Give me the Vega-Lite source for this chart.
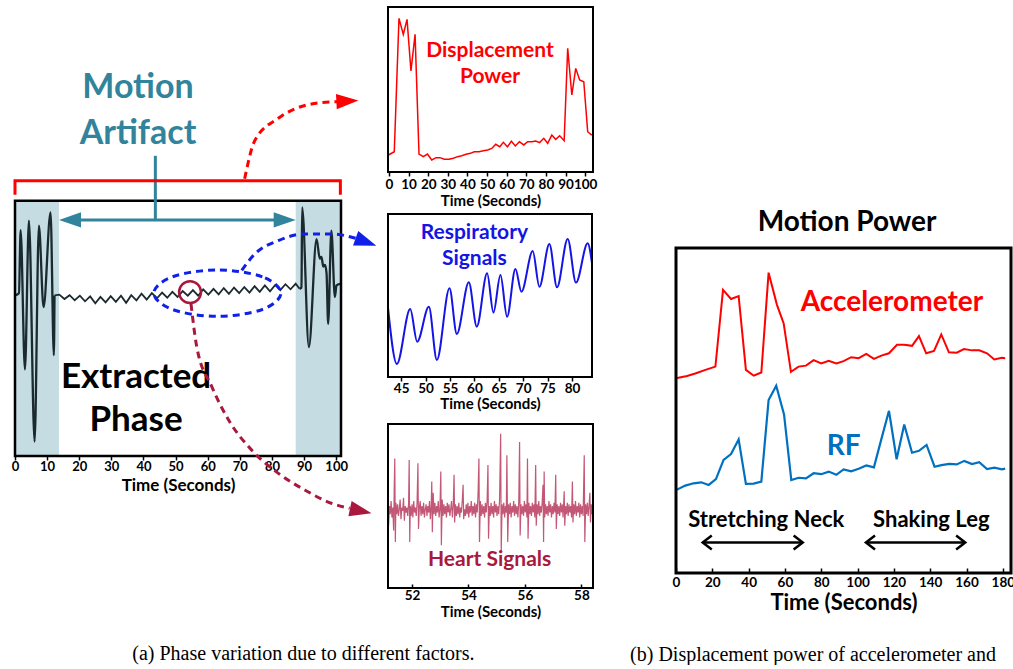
{
  "$schema": "https://vega.github.io/schema/vega-lite/v6.json",
  "background": "white",
  "autosize": {"type": "pad"},
  "padding": {"left": 9, "top": 6, "right": 1, "bottom": 0},
  "datasets": {
    "zig": [
      {"x":12.3,"y":62.9},{"x":13.8,"y":63.2},{"x":15.4,"y":61.5},{"x":17.0,"y":63.0},{"x":18.6,"y":61.0},{"x":20.2,"y":62.8},{"x":21.8,"y":60.6},{"x":23.4,"y":62.5},{"x":25.0,"y":59.8},{"x":26.6,"y":62.3},{"x":28.2,"y":60.2},{"x":29.8,"y":62.6},{"x":31.4,"y":60.4},{"x":33.0,"y":62.8},{"x":34.6,"y":60.0},{"x":36.2,"y":63.0},{"x":37.8,"y":61.0},{"x":39.4,"y":63.6},{"x":41.0,"y":61.3},{"x":42.6,"y":63.8},{"x":44.2,"y":61.8},{"x":45.8,"y":64.0},{"x":47.4,"y":62.0},{"x":49.0,"y":64.3},{"x":50.6,"y":62.3},{"x":52.2,"y":64.6},{"x":53.8,"y":62.8},{"x":55.4,"y":65.0},{"x":57.0,"y":62.8},{"x":58.6,"y":65.3},{"x":60.2,"y":63.2},{"x":61.8,"y":65.5},{"x":63.4,"y":63.3},{"x":65.0,"y":65.8},{"x":66.6,"y":63.5},{"x":68.2,"y":66.0},{"x":69.8,"y":63.8},{"x":71.4,"y":66.2},{"x":73.0,"y":64.0},{"x":74.6,"y":66.5},{"x":76.2,"y":64.3},{"x":77.8,"y":66.8},{"x":79.4,"y":64.5},{"x":81.0,"y":67.0},{"x":82.6,"y":65.0},{"x":84.2,"y":67.3},{"x":85.8,"y":65.3},{"x":87.4,"y":67.5},{"x":88.6,"y":65.5}
    ],
    "spk": [
      {"s":1,"x":0,"y":62.9},{"s":1,"x":1.23,"y":63.8},{"s":1,"x":1.75,"y":88.5},{"s":1,"x":3.1,"y":33.9},{"s":1,"x":4.34,"y":92.2},{"s":1,"x":6.1,"y":5.6},{"s":1,"x":7.44,"y":90.2},{"s":1,"x":8.9,"y":58.3},{"s":1,"x":11.07,"y":95.4},{"s":1,"x":12.1,"y":39.5},{"s":1,"x":12.3,"y":62.9},
      {"s":2,"x":88.6,"y":65.5},{"s":2,"x":89.2,"y":66.0},{"s":2,"x":89.4,"y":97.4},{"s":2,"x":91.5,"y":42.7},{"s":2,"x":93.9,"y":85.0},{"s":2,"x":94.9,"y":77.3},{"s":2,"x":95.4,"y":78.0},{"s":2,"x":96.0,"y":74.2},{"s":2,"x":96.5,"y":74.9},{"s":2,"x":97.0,"y":71.6},{"s":2,"x":97.5,"y":51.8},{"s":2,"x":98.5,"y":88.3},{"s":2,"x":99.6,"y":62.3},{"s":2,"x":100.1,"y":66.8},{"s":2,"x":101.2,"y":67.4}
    ],
    "acc": [
      {"x":0,"y":59.9},{"x":6.06,"y":60.6},{"x":10.6,"y":61.4},{"x":16.2,"y":62.5},{"x":21.7,"y":63.5},{"x":25.9,"y":87.1},{"x":30.3,"y":84.3},{"x":34.5,"y":85.2},{"x":38.5,"y":62.5},{"x":42.8,"y":60.7},{"x":47.0,"y":61.7},{"x":51.0,"y":92.4},{"x":55.6,"y":82.5},{"x":59.3,"y":76.8},{"x":63.3,"y":61.9},{"x":67.5,"y":63.5},{"x":71.6,"y":63.8},{"x":75.8,"y":65.5},{"x":80.0,"y":64.5},{"x":84.1,"y":65.3},{"x":88.3,"y":64.5},{"x":92.3,"y":65.2},{"x":96.5,"y":66.4},{"x":100.6,"y":66.1},{"x":104.8,"y":67.4},{"x":109.0,"y":65.9},{"x":113.1,"y":66.9},{"x":117.3,"y":67.6},{"x":121.7,"y":70.2},{"x":125.7,"y":70.2},{"x":130.0,"y":69.9},{"x":133.8,"y":72.9},{"x":137.8,"y":67.6},{"x":142.1,"y":68.3},{"x":146.1,"y":73.4},{"x":150.3,"y":67.9},{"x":154.6,"y":67.8},{"x":158.6,"y":68.9},{"x":163.0,"y":68.5},{"x":167.0,"y":68.5},{"x":171.3,"y":67.6},{"x":175.3,"y":65.7},{"x":179.5,"y":66.2},{"x":181.3,"y":66.1}
    ],
    "rf": [
      {"x":0,"y":25.5},{"x":5.1,"y":26.9},{"x":9.7,"y":27.6},{"x":13.9,"y":27.9},{"x":18.0,"y":27.1},{"x":22.0,"y":28.9},{"x":26.2,"y":34.8},{"x":30.3,"y":36.6},{"x":34.5,"y":41.1},{"x":38.5,"y":27.4},{"x":42.8,"y":27.5},{"x":47.0,"y":28.1},{"x":51.0,"y":53.2},{"x":55.2,"y":57.6},{"x":59.5,"y":48.8},{"x":63.5,"y":28.6},{"x":67.5,"y":29.3},{"x":71.6,"y":29.1},{"x":75.8,"y":30.7},{"x":80.0,"y":30.4},{"x":84.1,"y":31.2},{"x":88.3,"y":30.2},{"x":92.3,"y":31.9},{"x":96.5,"y":31.3},{"x":100.6,"y":32.1},{"x":104.8,"y":33.1},{"x":109.0,"y":32.5},{"x":113.1,"y":41.2},{"x":117.3,"y":49.9},{"x":121.5,"y":35.0},{"x":125.7,"y":45.7},{"x":130.0,"y":37.0},{"x":133.8,"y":37.6},{"x":138.0,"y":39.4},{"x":142.4,"y":32.7},{"x":146.2,"y":33.2},{"x":150.5,"y":33.6},{"x":154.6,"y":33.4},{"x":158.8,"y":34.5},{"x":163.0,"y":33.5},{"x":167.0,"y":34.1},{"x":171.3,"y":32.0},{"x":175.3,"y":32.4},{"x":179.5,"y":31.9},{"x":181.3,"y":32.1}
    ],
    "disp": [
      {"x":-0.3,"y":10.3},{"x":2.7,"y":12.3},{"x":5.1,"y":93.1},{"x":7.3,"y":83.4},{"x":9.2,"y":92.5},{"x":11.2,"y":61.2},{"x":13.3,"y":83.4},{"x":15.3,"y":10.9},{"x":17.5,"y":9.3},{"x":19.6,"y":10.9},{"x":21.8,"y":7.3},{"x":24.0,"y":8.7},{"x":26.0,"y":8.7},{"x":28.2,"y":7.7},{"x":30.6,"y":7.7},{"x":32.8,"y":8.3},{"x":35.0,"y":9.3},{"x":37.1,"y":9.9},{"x":39.3,"y":10.7},{"x":41.5,"y":11.3},{"x":43.5,"y":12.3},{"x":45.9,"y":12.3},{"x":48.1,"y":12.9},{"x":50.3,"y":13.3},{"x":52.4,"y":14.3},{"x":54.4,"y":16.8},{"x":56.5,"y":15.3},{"x":58.3,"y":18.0},{"x":60.4,"y":15.3},{"x":62.4,"y":18.6},{"x":64.4,"y":15.8},{"x":66.5,"y":18.4},{"x":68.7,"y":16.4},{"x":70.7,"y":18.4},{"x":72.8,"y":18.4},{"x":74.8,"y":18.8},{"x":76.8,"y":17.8},{"x":78.9,"y":20.4},{"x":80.9,"y":17.4},{"x":83.0,"y":22.4},{"x":85.0,"y":19.8},{"x":87.0,"y":22.0},{"x":89.3,"y":19.0},{"x":91.1,"y":75.0},{"x":93.2,"y":46.7},{"x":95.2,"y":62.8},{"x":97.2,"y":55.8},{"x":99.3,"y":54.7},{"x":101.3,"y":24.4},{"x":103.4,"y":22.4}
    ],
    "resp": [
      {"x":42.28,"y":43.1},{"x":44.12,"y":8.0},{"x":46.85,"y":41.7},{"x":48.28,"y":21.7},{"x":50.67,"y":43.1},{"x":52.31,"y":10.4},{"x":54.9,"y":54.4},{"x":56.4,"y":26.4},{"x":58.86,"y":58.1},{"x":60.49,"y":30.9},{"x":62.61,"y":63.6},{"x":63.9,"y":39.5},{"x":65.34,"y":62.6},{"x":66.7,"y":37.0},{"x":68.41,"y":66.3},{"x":69.64,"y":52.3},{"x":71.95,"y":77.3},{"x":73.32,"y":55.4},{"x":75.37,"y":81.6},{"x":76.93,"y":55.0},{"x":79.12,"y":84.7},{"x":80.82,"y":57.9},{"x":83.21,"y":82.0},{"x":84.1,"y":69.8}
    ],
    "heart": [
      {"x":51.15,"y":60},{"x":51.17,"y":38},{"x":51.20,"y":50},{"x":51.23,"y":45},{"x":51.26,"y":53},{"x":51.29,"y":43},{"x":51.32,"y":49},{"x":51.35,"y":35},{"x":51.37,"y":60},{"x":51.39,"y":79},{"x":51.41,"y":28},{"x":51.43,"y":52},{"x":51.46,"y":45},{"x":51.49,"y":51},{"x":51.52,"y":44},{"x":51.55,"y":48},{"x":51.58,"y":54},{"x":51.61,"y":42},{"x":51.64,"y":49},{"x":51.67,"y":47},{"x":51.70,"y":55},{"x":51.73,"y":41},{"x":51.76,"y":50},{"x":51.79,"y":46},{"x":51.82,"y":49},{"x":51.85,"y":44},{"x":51.88,"y":52},{"x":51.90,"y":78},{"x":51.92,"y":28},{"x":51.94,"y":50},{"x":51.97,"y":44},{"x":52.00,"y":51},{"x":52.03,"y":43},{"x":52.06,"y":53},{"x":52.09,"y":46},{"x":52.12,"y":49},{"x":52.15,"y":44},{"x":52.18,"y":52},{"x":52.21,"y":76},{"x":52.23,"y":36},{"x":52.26,"y":49},{"x":52.29,"y":53},{"x":52.32,"y":44},{"x":52.35,"y":50},{"x":52.38,"y":45},{"x":52.41,"y":52},{"x":52.44,"y":43},{"x":52.47,"y":48},{"x":52.50,"y":51},{"x":52.53,"y":44},{"x":52.56,"y":50},{"x":52.59,"y":46},{"x":52.62,"y":53},{"x":52.65,"y":42},{"x":52.68,"y":50},{"x":52.70,"y":65},{"x":52.72,"y":34},{"x":52.75,"y":58},{"x":52.78,"y":45},{"x":52.81,"y":52},{"x":52.84,"y":44},{"x":52.87,"y":50},{"x":52.90,"y":46},{"x":52.93,"y":53},{"x":52.96,"y":43},{"x":52.99,"y":48},{"x":53.02,"y":71},{"x":53.04,"y":26},{"x":53.07,"y":54},{"x":53.10,"y":44},{"x":53.13,"y":51},{"x":53.16,"y":45},{"x":53.19,"y":50},{"x":53.22,"y":43},{"x":53.25,"y":52},{"x":53.28,"y":46},{"x":53.31,"y":51},{"x":53.34,"y":44},{"x":53.37,"y":48},{"x":53.40,"y":53},{"x":53.43,"y":43},{"x":53.46,"y":50},{"x":53.49,"y":69},{"x":53.51,"y":40},{"x":53.54,"y":51},{"x":53.57,"y":44},{"x":53.60,"y":50},{"x":53.63,"y":45},{"x":53.66,"y":52},{"x":53.69,"y":43},{"x":53.72,"y":49},{"x":53.75,"y":46},{"x":53.78,"y":53},{"x":53.81,"y":63},{"x":53.83,"y":42},{"x":53.86,"y":48},{"x":53.89,"y":44},{"x":53.92,"y":51},{"x":53.95,"y":45},{"x":53.98,"y":52},{"x":54.01,"y":43},{"x":54.04,"y":50},{"x":54.07,"y":46},{"x":54.10,"y":53},{"x":54.13,"y":44},{"x":54.16,"y":50},{"x":54.19,"y":45},{"x":54.22,"y":52},{"x":54.25,"y":43},{"x":54.28,"y":51},{"x":54.31,"y":46},{"x":54.34,"y":58},{"x":54.37,"y":79},{"x":54.39,"y":28},{"x":54.42,"y":53},{"x":54.45,"y":44},{"x":54.48,"y":51},{"x":54.51,"y":45},{"x":54.54,"y":50},{"x":54.57,"y":43},{"x":54.60,"y":52},{"x":54.63,"y":46},{"x":54.66,"y":53},{"x":54.69,"y":75},{"x":54.71,"y":30},{"x":54.74,"y":50},{"x":54.77,"y":44},{"x":54.80,"y":52},{"x":54.83,"y":45},{"x":54.86,"y":50},{"x":54.89,"y":43},{"x":54.92,"y":53},{"x":54.95,"y":46},{"x":54.98,"y":51},{"x":55.01,"y":44},{"x":55.04,"y":50},{"x":55.07,"y":45},{"x":55.10,"y":53},{"x":55.14,"y":94},{"x":55.16,"y":22},{"x":55.19,"y":51},{"x":55.22,"y":45},{"x":55.25,"y":52},{"x":55.28,"y":43},{"x":55.31,"y":50},{"x":55.34,"y":46},{"x":55.36,"y":81},{"x":55.39,"y":28},{"x":55.42,"y":51},{"x":55.45,"y":45},{"x":55.48,"y":52},{"x":55.51,"y":43},{"x":55.54,"y":50},{"x":55.57,"y":46},{"x":55.60,"y":53},{"x":55.63,"y":44},{"x":55.66,"y":51},{"x":55.69,"y":45},{"x":55.72,"y":50},{"x":55.75,"y":43},{"x":55.78,"y":52},{"x":55.81,"y":89},{"x":55.83,"y":32},{"x":55.86,"y":51},{"x":55.89,"y":45},{"x":55.92,"y":50},{"x":55.95,"y":44},{"x":55.98,"y":53},{"x":56.01,"y":46},{"x":56.04,"y":51},{"x":56.07,"y":43},{"x":56.09,"y":79},{"x":56.11,"y":30},{"x":56.14,"y":52},{"x":56.17,"y":45},{"x":56.20,"y":50},{"x":56.23,"y":44},{"x":56.26,"y":52},{"x":56.29,"y":46},{"x":56.32,"y":51},{"x":56.35,"y":43},{"x":56.38,"y":75},{"x":56.40,"y":38},{"x":56.43,"y":51},{"x":56.46,"y":45},{"x":56.49,"y":53},{"x":56.52,"y":44},{"x":56.55,"y":50},{"x":56.58,"y":46},{"x":56.61,"y":52},{"x":56.64,"y":63},{"x":56.66,"y":28},{"x":56.68,"y":71},{"x":56.70,"y":43},{"x":56.73,"y":51},{"x":56.76,"y":45},{"x":56.79,"y":50},{"x":56.82,"y":44},{"x":56.85,"y":53},{"x":56.88,"y":46},{"x":56.91,"y":51},{"x":56.94,"y":43},{"x":56.97,"y":50},{"x":57.00,"y":45},{"x":57.03,"y":52},{"x":57.06,"y":46},{"x":57.09,"y":69},{"x":57.11,"y":36},{"x":57.14,"y":51},{"x":57.17,"y":45},{"x":57.20,"y":50},{"x":57.23,"y":44},{"x":57.26,"y":52},{"x":57.29,"y":46},{"x":57.32,"y":51},{"x":57.35,"y":43},{"x":57.39,"y":59},{"x":57.41,"y":38},{"x":57.44,"y":50},{"x":57.47,"y":45},{"x":57.50,"y":52},{"x":57.53,"y":44},{"x":57.56,"y":51},{"x":57.59,"y":46},{"x":57.62,"y":50},{"x":57.65,"y":43},{"x":57.68,"y":65},{"x":57.70,"y":40},{"x":57.73,"y":51},{"x":57.76,"y":45},{"x":57.79,"y":53},{"x":57.82,"y":44},{"x":57.85,"y":50},{"x":57.88,"y":46},{"x":57.91,"y":52},{"x":57.94,"y":43},{"x":57.97,"y":51},{"x":58.00,"y":45},{"x":58.03,"y":50},{"x":58.06,"y":44},{"x":58.10,"y":81},{"x":58.12,"y":28},{"x":58.15,"y":51},{"x":58.18,"y":45},{"x":58.21,"y":52},{"x":58.24,"y":44},{"x":58.27,"y":50},{"x":58.30,"y":58},{"x":58.32,"y":40},{"x":58.35,"y":51},{"x":58.38,"y":45},{"x":58.41,"y":49}
    ]
  },
  "bounds": "flush",
  "spacing": 47,
  "hconcat": [
    {
      "width": 326, "height": 449,
      "view": {"stroke": null},
      "encoding": {
        "x": {"field": "x", "type": "quantitative", "scale": {"domain": [0, 101.5], "nice": false, "zero": false},
              "axis": {"values": [0,10,20,30,40,50,60,70,80,90,100], "title": "Time (Seconds)", "labelFontSize": 13, "titleFontSize": 17, "tickSize": 4, "labelPadding": 0, "titlePadding": 4}},
        "y": {"field": "y", "type": "quantitative", "scale": {"domain": [0, 175.9], "nice": false, "zero": false}, "axis": null}
      },
      "layer": [
        {
          "data": {"values": [{"x": 0, "x2": 13.7, "y": 0, "y2": 100}, {"x": 87.4, "x2": 101.5, "y": 0, "y2": 100}]},
          "mark": {"type": "rect", "color": "#C4DCE2"},
          "encoding": {"x2": {"field": "x2"}, "y2": {"field": "y2"}}
        },
        {"data": {"name": "zig"}, "mark": {"type": "line", "color": "#1B2A2E", "strokeWidth": 1.8}},
        {"data": {"name": "spk"}, "mark": {"type": "line", "interpolate": "monotone", "color": "#1B2A2E", "strokeWidth": 2.3}, "encoding": {"detail": {"field": "s", "type": "nominal"}}},
        {
          "data": {"values": [{"x": 0, "x2": 101.5, "y": 0, "y2": 100}]},
          "mark": {"type": "rect", "fill": null, "fillOpacity": 0, "stroke": "black", "strokeWidth": 2.5},
          "encoding": {"x2": {"field": "x2"}, "y2": {"field": "y2"}}
        },
        {"data": {"values": [{"x": 16, "y": 92.5}, {"x": 85, "y": 92.5}]}, "mark": {"type": "line", "color": "#31849B", "strokeWidth": 3}},
        {"data": {"values": [{"x": 13.7, "y": 92.5}]}, "mark": {"type": "point", "shape": "M-2,-0.7L0,0L-2,0.7Z", "size": 484, "filled": true, "opacity": 1, "color": "#31849B", "angle": 180}},
        {"data": {"values": [{"x": 87.4, "y": 92.5}]}, "mark": {"type": "point", "shape": "M-2,-0.7L0,0L-2,0.7Z", "size": 484, "filled": true, "opacity": 1, "color": "#31849B", "angle": 0}},
        {"data": {"values": [{"x": 43.7, "y": 92.5}, {"x": 43.7, "y": 117.6}]}, "mark": {"type": "line", "color": "#31849B", "strokeWidth": 3}},
        {"data": {"values": [{"x": 0, "y": 102.3, "o": 1}, {"x": 0, "y": 107.8, "o": 2}, {"x": 101.3, "y": 107.8, "o": 3}, {"x": 101.3, "y": 102.3, "o": 4}]},
         "mark": {"type": "line", "color": "#FF0000", "strokeWidth": 3}, "encoding": {"order": {"field": "o", "type": "quantitative"}}},
        {"data": {"values": [{"x": 38.3, "y": 144, "t": "Motion"}, {"x": 38.3, "y": 126, "t": "Artifact"}]},
         "mark": {"type": "text", "fontSize": 34, "fontWeight": "bold", "color": "#31849B", "baseline": "middle", "align": "center"}, "encoding": {"text": {"field": "t"}}},
        {"data": {"values": [{"x": 37.7, "y": 31, "t": "Extracted"}, {"x": 37.7, "y": 14.1, "t": "Phase"}]},
         "mark": {"type": "text", "fontSize": 35, "fontWeight": "bold", "color": "black", "baseline": "middle", "align": "center"}, "encoding": {"text": {"field": "t"}}},
        {"data": {"values": [{"x": 71.5, "y": 108.6}, {"x": 74.6, "y": 123.4}, {"x": 82.1, "y": 132.4}, {"x": 92.3, "y": 137.9}, {"x": 100.5, "y": 138.8}]},
         "mark": {"type": "line", "interpolate": "monotone", "color": "#FF0000", "strokeWidth": 3, "strokeDash": [7, 5]}},
        {"data": {"values": [{"x": 106.9, "y": 139.3}]}, "mark": {"type": "point", "shape": "M-2,-0.7L0,0L-2,0.7Z", "size": 484, "filled": true, "opacity": 1, "color": "#FF0000", "angle": -3}},
        {"data": {"values": [{"x": 82.8, "y": 63.8, "o": 1}, {"x": 77.0, "y": 70.2, "o": 2}, {"x": 63.0, "y": 72.9, "o": 3}, {"x": 49.0, "y": 70.2, "o": 4}, {"x": 43.2, "y": 63.8, "o": 5}, {"x": 49.0, "y": 57.4, "o": 6}, {"x": 63.0, "y": 54.7, "o": 7}, {"x": 77.0, "y": 57.4, "o": 8}]},
         "mark": {"type": "line", "interpolate": "cardinal-closed", "color": "#1020E8", "strokeWidth": 3, "strokeDash": [7, 5]}, "encoding": {"order": {"field": "o", "type": "quantitative"}}},
        {"data": {"values": [{"x": 70.6, "y": 72.7}, {"x": 74.7, "y": 79.2}, {"x": 82.0, "y": 84.4}, {"x": 90.2, "y": 87.0}, {"x": 98.5, "y": 87.0}, {"x": 106.3, "y": 85.2}]},
         "mark": {"type": "line", "interpolate": "monotone", "color": "#1020E8", "strokeWidth": 3, "strokeDash": [7, 5]}},
        {"data": {"values": [{"x": 112.5, "y": 82.4}]}, "mark": {"type": "point", "shape": "M-2,-0.7L0,0L-2,0.7Z", "size": 484, "filled": true, "opacity": 1, "color": "#1020E8", "angle": 20}},
        {"data": {"values": [{"x": 54.5, "y": 64.2}]}, "mark": {"type": "point", "shape": "circle", "size": 480, "filled": false, "opacity": 1, "color": "#A8193D", "strokeWidth": 2.5}},
        {"data": {"values": [{"x": 54.8, "y": 59.6}, {"x": 56.6, "y": 42.7}, {"x": 61.3, "y": 27.1}, {"x": 66.5, "y": 14.1}, {"x": 73.7, "y": 2.3}, {"x": 82.0, "y": -6.8}, {"x": 90.2, "y": -13.3}, {"x": 98.5, "y": -18.5}, {"x": 104.2, "y": -20.5}]},
         "mark": {"type": "line", "interpolate": "monotone", "color": "#A8193D", "strokeWidth": 3, "strokeDash": [7, 5]}},
        {"data": {"values": [{"x": 111.0, "y": -22.4}]}, "mark": {"type": "point", "shape": "M-2,-0.7L0,0L-2,0.7Z", "size": 484, "filled": true, "opacity": 1, "color": "#A8193D", "angle": 12}},
        {"data": {"values": [{"x": 89.8, "y": -77.7, "t": "(a) Phase variation due to different factors."}]},
         "mark": {"type": "text", "font": "Liberation Serif", "fontSize": 20, "fontWeight": "normal", "color": "black", "baseline": "middle", "align": "center"}, "encoding": {"text": {"field": "t"}}}
      ]
    },
    {
      "width": 241, "height": 581,
      "view": {"stroke": null},
      "resolve": {"scale": {"x": "independent", "y": "independent"}, "axis": {"x": "independent", "y": "independent"}},
      "layer": [
        {
          "encoding": {
            "x": {"field": "x", "type": "quantitative", "scale": {"domain": [-0.5, 104], "range": [0, 205], "nice": false, "zero": false},
                  "axis": {"orient": "bottom", "offset": -416, "values": [0,10,20,30,40,50,60,70,80,90,100], "title": "Time (Seconds)", "labelFontSize": 13.5, "titleFontSize": 15, "tickSize": 4, "labelPadding": 1.5, "titlePadding": 2}},
            "y": {"field": "y", "type": "quantitative", "scale": {"domain": [0, 100], "range": [165, 0], "nice": false, "zero": false}, "axis": null}
          },
          "layer": [
            {"data": {"name": "disp"}, "mark": {"type": "line", "color": "#FF0000", "strokeWidth": 1.5}},
            {"data": {"values": [{"x": 51.5, "y": 73.5, "t": "Displacement"}, {"x": 51.5, "y": 57.4, "t": "Power"}]},
             "mark": {"type": "text", "fontSize": 21, "fontWeight": "bold", "color": "#FF0000", "baseline": "middle", "align": "center"}, "encoding": {"text": {"field": "t"}}},
            {"data": {"values": [{"x": -0.5, "x2": 104, "y": 0, "y2": 100}]},
             "mark": {"type": "rect", "fill": null, "fillOpacity": 0, "stroke": "black", "strokeWidth": 2},
             "encoding": {"x2": {"field": "x2"}, "y2": {"field": "y2"}}}
          ]
        },
        {
          "encoding": {
            "x": {"field": "x", "type": "quantitative", "scale": {"domain": [42.3, 84.1], "range": [0, 204], "nice": false, "zero": false},
                  "axis": {"orient": "bottom", "offset": -211, "values": [45,50,55,60,65,70,75,80], "title": "Time (Seconds)", "labelFontSize": 13.5, "titleFontSize": 15, "tickSize": 4, "labelPadding": 0.5, "titlePadding": 1.5}},
            "y": {"field": "y", "type": "quantitative", "scale": {"domain": [0, 100], "range": [370, 207], "nice": false, "zero": false}, "axis": null}
          },
          "layer": [
            {"data": {"name": "resp"}, "mark": {"type": "line", "interpolate": "monotone", "color": "#1414E6", "strokeWidth": 2}},
            {"data": {"values": [{"x": 60.0, "y": 88.2, "t": "Respiratory"}, {"x": 60.0, "y": 72.2, "t": "Signals"}]},
             "mark": {"type": "text", "fontSize": 21, "fontWeight": "bold", "color": "#1414E6", "baseline": "middle", "align": "center"}, "encoding": {"text": {"field": "t"}}},
            {"data": {"values": [{"x": 42.3, "x2": 84.1, "y": 0, "y2": 100}]},
             "mark": {"type": "rect", "fill": null, "fillOpacity": 0, "stroke": "black", "strokeWidth": 2},
             "encoding": {"x2": {"field": "x2"}, "y2": {"field": "y2"}}}
          ]
        },
        {
          "encoding": {
            "x": {"field": "x", "type": "quantitative", "scale": {"domain": [51.15, 58.41], "range": [0, 205], "nice": false, "zero": false},
                  "axis": {"orient": "bottom", "offset": 0, "values": [52,54,56,58], "title": "Time (Seconds)", "labelFontSize": 13.5, "titleFontSize": 15, "tickSize": -4, "labelPadding": 4, "titlePadding": 3}},
            "y": {"field": "y", "type": "quantitative", "scale": {"domain": [0, 100], "range": [581, 417], "nice": false, "zero": false}, "axis": null}
          },
          "layer": [
            {"data": {"name": "heart"}, "mark": {"type": "line", "color": "#B83A5E", "strokeWidth": 1.2, "opacity": 0.85}},
            {"data": {"values": [{"x": 54.75, "y": 17.1, "t": "Heart Signals"}]},
             "mark": {"type": "text", "fontSize": 21, "fontWeight": "bold", "color": "#A8193D", "baseline": "middle", "align": "center"}, "encoding": {"text": {"field": "t"}}},
            {"data": {"values": [{"x": 51.15, "x2": 58.41, "y": 0, "y2": 100}]},
             "mark": {"type": "rect", "fill": null, "fillOpacity": 0, "stroke": "black", "strokeWidth": 2},
             "encoding": {"x2": {"field": "x2"}, "y2": {"field": "y2"}}}
          ]
        }
      ]
    },
    {
      "width": 335, "height": 566,
      "view": {"stroke": null},
      "encoding": {
        "x": {"field": "x", "type": "quantitative", "scale": {"domain": [0, 184.5], "nice": false, "zero": false},
              "axis": {"values": [0,20,40,60,80,100,120,140,160,180], "title": "Time (Seconds)", "labelFontSize": 13.5, "titleFontSize": 22, "tickSize": -5, "labelPadding": 7, "titlePadding": 4}},
        "y": {"field": "y", "type": "quantitative", "scale": {"domain": [0, 174.15], "nice": false, "zero": false}, "axis": null}
      },
      "layer": [
        {"data": {"name": "acc"}, "mark": {"type": "line", "color": "#FF0000", "strokeWidth": 2}},
        {"data": {"name": "rf"}, "mark": {"type": "line", "color": "#0070C0", "strokeWidth": 2.2}},
        {
          "data": {"values": [{"x": 0, "x2": 184.5, "y": 0, "y2": 100}]},
          "mark": {"type": "rect", "fill": null, "fillOpacity": 0, "stroke": "black", "strokeWidth": 3},
          "encoding": {"x2": {"field": "x2"}, "y2": {"field": "y2"}}
        },
        {"data": {"values": [{"x": 94.2, "y": 107.7, "t": "Motion Power"}]},
         "mark": {"type": "text", "fontSize": 28, "fontWeight": "bold", "color": "black", "baseline": "middle", "align": "center"}, "encoding": {"text": {"field": "t"}}},
        {"data": {"values": [{"x": 118.9, "y": 83.1, "t": "Accelerometer"}]},
         "mark": {"type": "text", "fontSize": 28, "fontWeight": "bold", "color": "#FF0000", "baseline": "middle", "align": "center"}, "encoding": {"text": {"field": "t"}}},
        {"data": {"values": [{"x": 92.3, "y": 38.9, "t": "RF"}]},
         "mark": {"type": "text", "fontSize": 28, "fontWeight": "bold", "color": "#0070C0", "baseline": "middle", "align": "center"}, "encoding": {"text": {"field": "t"}}},
        {"data": {"values": [{"x": 49.7, "y": 16.3, "t": "Stretching Neck"}, {"x": 140.6, "y": 16.3, "t": "Shaking Leg"}]},
         "mark": {"type": "text", "fontSize": 22, "fontWeight": "bold", "color": "black", "baseline": "middle", "align": "center"}, "encoding": {"text": {"field": "t"}}},
        {"data": {"values": [{"x": 15.2, "y": 9.4, "s": 1}, {"x": 69.3, "y": 9.4, "s": 1}, {"x": 105.1, "y": 9.4, "s": 2}, {"x": 158.8, "y": 9.4, "s": 2}]},
         "mark": {"type": "line", "color": "black", "strokeWidth": 2.5}, "encoding": {"detail": {"field": "s", "type": "nominal"}}},
        {"data": {"values": [{"x": 14.7, "y": 9.4}, {"x": 104.6, "y": 9.4}]},
         "mark": {"type": "point", "shape": "M1.3,-1L0,0L1.3,1", "size": 196, "filled": false, "opacity": 1, "color": "black", "strokeWidth": 2.5, "angle": 0}},
        {"data": {"values": [{"x": 69.8, "y": 9.4}, {"x": 159.3, "y": 9.4}]},
         "mark": {"type": "point", "shape": "M1.3,-1L0,0L1.3,1", "size": 196, "filled": false, "opacity": 1, "color": "black", "strokeWidth": 2.5, "angle": 180}},
        {"data": {"values": [{"x": -25.3, "y": -25.2, "t": "(b) Displacement power of accelerometer and"}]},
         "mark": {"type": "text", "font": "Liberation Serif", "fontSize": 20, "fontWeight": "normal", "color": "black", "baseline": "middle", "align": "left"}, "encoding": {"text": {"field": "t"}}}
      ]
    }
  ],
  "config": {
    "font": "Lato",
    "view": {"stroke": null},
    "axis": {"domain": false, "grid": false, "labelFont": "Lato", "labelFontWeight": "bold", "labelColor": "black", "titleFont": "Lato", "titleFontWeight": "bold", "titleColor": "black", "tickColor": "black", "tickWidth": 1.5, "labelFlush": false, "labelOverlap": false, "labelBound": false, "labelAngle": 0},
    "text": {"font": "Lato", "fontWeight": "bold"}
  }
}
